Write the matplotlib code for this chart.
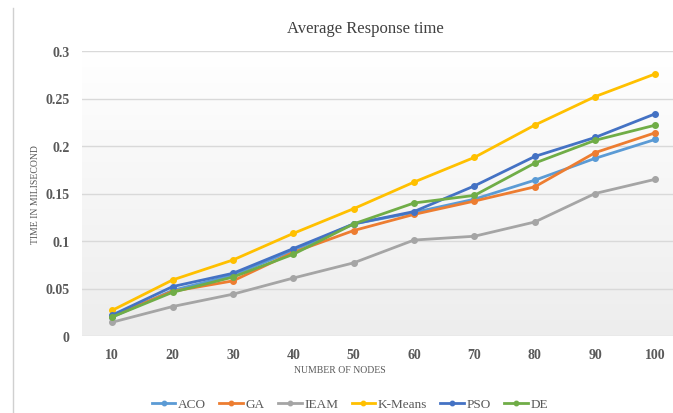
import numpy as np
import matplotlib.pyplot as plt
from matplotlib.lines import Line2D

# Данные
nodes = [10, 20, 30, 40, 50, 60, 70, 80, 90, 100]
aco = [0.020, 0.048, 0.064, 0.090, 0.118, 0.130, 0.144, 0.164, 0.187, 0.207]
ga = [0.021, 0.047, 0.058, 0.088, 0.111, 0.128, 0.142, 0.157, 0.193, 0.214]
ieam = [0.0145, 0.031, 0.044, 0.061, 0.077, 0.101, 0.105, 0.120, 0.150, 0.165]
kmeans = [0.027, 0.059, 0.080, 0.108, 0.134, 0.162, 0.188, 0.222, 0.252, 0.276]
pso = [0.022, 0.052, 0.066, 0.092, 0.118, 0.131, 0.158, 0.189, 0.209, 0.234]
de = [0.020, 0.046, 0.062, 0.086, 0.118, 0.140, 0.148, 0.182, 0.206, 0.222]

series = [
    ('ACO', aco, '#5B9BD5'),
    ('GA', ga, '#ED7D31'),
    ('IEAM', ieam, '#A5A5A5'),
    ('K-Means', kmeans, '#FFC000'),
    ('PSO', pso, '#4472C4'),
    ('DE', de, '#70AD47'),
]

plt.rcParams['font.family'] = ['Liberation Serif', 'DejaVu Serif']

fig = plt.figure(figsize=(6.73, 4.14), dpi=100)
W, H = 673, 414
ax = fig.add_axes([82 / W, 1 - 337 / H, (673 - 82) / W, (337 - 52) / H])

# градиентный фон области построения
grad = np.linspace(0, 1, 256).reshape(-1, 1)
ax.imshow(grad, extent=[0, 1, 0, 1], transform=ax.transAxes, aspect='auto',
          cmap=plt.matplotlib.colors.LinearSegmentedColormap.from_list('g', ['#EDEDED', '#FFFFFF']),
          origin='lower', zorder=0)

for name, vals, col in series:
    ax.plot(nodes, vals, color=col, lw=2, marker='o', ms=4, label=name, zorder=3)

ax.set_xlim(5, 102.9)
ax.set_ylim(0, 0.3)
ax.set_xticks(nodes)
ax.set_xticklabels([str(n) for n in nodes])
ax.set_yticks([0, 0.05, 0.1, 0.15, 0.2, 0.25, 0.3])
ax.set_yticklabels(['0', '0.05', '0.1', '0.15', '0.2', '0.25', '0.3'])
ax.grid(axis='y', color='#D9D9D9', lw=1)
ax.set_axisbelow(True)
for s in ax.spines.values():
    s.set_visible(False)
ax.tick_params(length=0, labelsize=10, colors='#595959', pad=9)
for t in ax.get_xticklabels() + ax.get_yticklabels():
    t.set_fontweight('bold')

fig.text(365 / W, 1 - 29 / H, 'Average Response time', ha='center', va='center',
         fontsize=12, color='#404040')
fig.text(340 / W, 1 - 371 / H, 'NUMBER OF NODES', ha='center', va='center',
         fontsize=7, color='#595959')
fig.text(36 / W, 1 - 195 / H, 'TIME IN MILISECOND', ha='center', va='center',
         fontsize=7, color='#595959', rotation=90)

# левая рамка
fig.add_artist(Line2D([13 / W, 13 / W], [0, 1 - 9 / H], color='#D0D0D0', lw=1))

ax.legend(loc='center', bbox_to_anchor=(350 / W, 1 - 405 / H), bbox_transform=fig.transFigure,
          ncol=6, frameon=False, fontsize=9.5, handlelength=1.8, columnspacing=1.0,
          handletextpad=0.2, markerscale=0.8, labelcolor='#595959')

plt.savefig('out.png', dpi=100)
